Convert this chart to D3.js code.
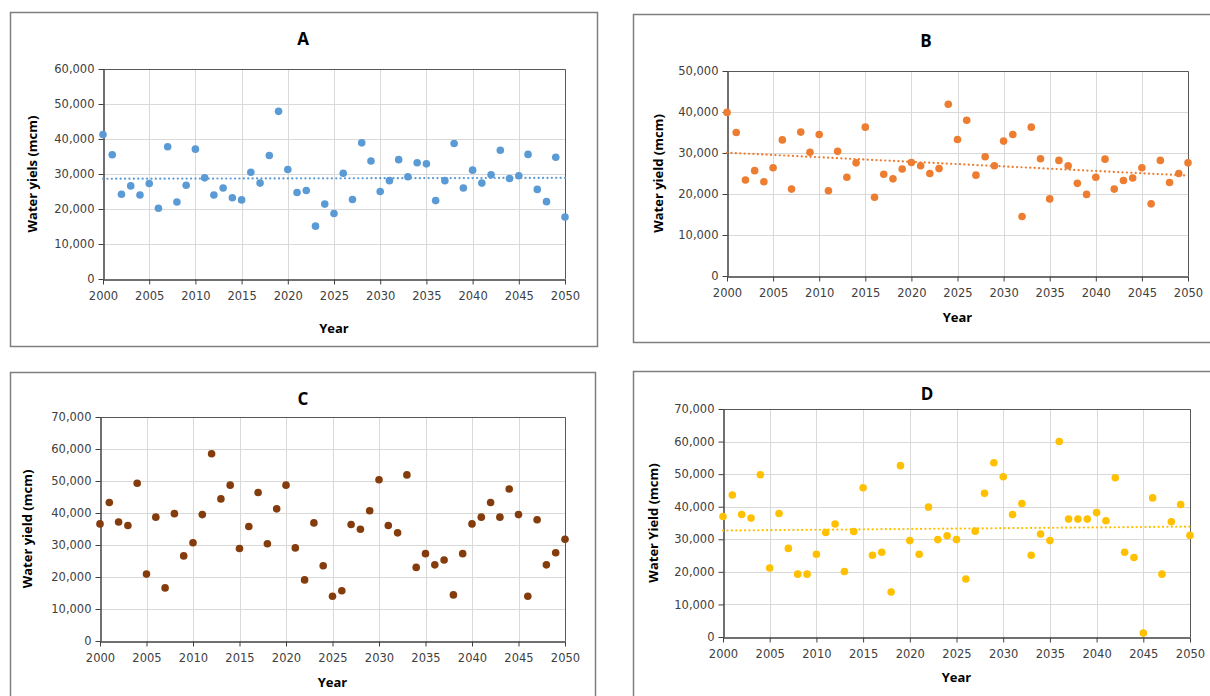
<!DOCTYPE html>
<html>
<meta charset="utf-8">
<style>
  body { margin: 0; background: #fff; }
  text { font-family: "DejaVu Sans", Verdana, sans-serif; }
  .lbl { font-family: "Open Sans", "Noto Sans", sans-serif; font-weight: bold; }
</style>
<script src="https://d3js.org/d3.v7.min.js"></script>
<body>
<script>
  var svgWidth = 1210, svgHeight = 696;

  var years = d3.range(2000, 2051);
  var xTicks = [2000, 2005, 2010, 2015, 2020, 2025, 2030, 2035, 2040, 2045, 2050];

  // water yield (thousand mcm)
  var yieldA = [41.3, 35.5, 24.2, 26.6, 24.0, 27.3, 20.2, 37.8, 22.0, 26.8,
    37.1, 28.9, 24.0, 26.0, 23.2, 22.6, 30.5, 27.4, 35.3, 47.9,
    31.3, 24.7, 25.3, 15.1, 21.4, 18.7, 30.2, 22.7, 38.9, 33.7,
    25.0, 28.1, 34.1, 29.2, 33.2, 32.9, 22.4, 28.1, 38.7, 26.0,
    31.1, 27.4, 29.8, 36.8, 28.7, 29.5, 35.6, 25.6, 22.1, 34.8, 17.7];
  var yieldB = [39.9, 35.0, 23.4, 25.7, 23.0, 26.4, 33.2, 21.2, 35.1, 30.2,
    34.5, 20.8, 30.4, 24.1, 27.6, 36.3, 19.2, 24.8, 23.7, 26.1,
    27.7, 26.9, 25.0, 26.2, 41.9, 33.3, 38.0, 24.6, 29.1, 26.9,
    32.9, 34.5, 14.5, 36.3, 28.6, 18.8, 28.2, 26.9, 22.6, 19.9,
    24.1, 28.5, 21.2, 23.3, 23.9, 26.4, 17.6, 28.2, 22.8, 25.0, 27.6];
  var yieldC = [36.6, 43.3, 37.2, 36.1, 49.3, 20.9, 38.7, 16.6, 39.8, 26.6,
    30.7, 39.5, 58.5, 44.4, 48.7, 28.9, 35.8, 46.4, 30.4, 41.3,
    48.7, 29.1, 19.1, 36.9, 23.5, 14.0, 15.7, 36.4, 34.9, 40.7,
    50.4, 36.1, 33.8, 51.9, 23.0, 27.3, 23.8, 25.3, 14.4, 27.3,
    36.6, 38.7, 43.3, 38.7, 47.5, 39.5, 14.0, 37.9, 23.8, 27.6, 31.8];
  var yieldD = [37.0, 43.6, 37.6, 36.5, 49.8, 21.2, 37.9, 27.2, 19.3, 19.3,
    25.4, 32.1, 34.7, 20.1, 32.4, 45.8, 25.1, 26.0, 13.8, 52.6,
    29.6, 25.4, 39.9, 29.9, 31.1, 29.9, 17.8, 32.5, 44.1, 53.5,
    49.2, 37.6, 41.0, 25.1, 31.6, 29.6, 60.0, 36.2, 36.2, 36.2,
    38.2, 35.7, 48.9, 26.0, 24.4, 1.2, 42.7, 19.3, 35.4, 40.7, 31.2];

  var panelNames = ["A", "B", "C", "D"];
  var yTitles = ["Water yiels (mcm)", "Water yield (mcm)", "Water yield (mcm)", "Water Yield (mcm)"];
  var yMaxes = [60000, 50000, 70000, 70000];
  var colors = ["#5b9bd5", "#ed7d31", "#843c0c", "#ffc000"];
  var trends = [true, true, false, true];
  var series = [yieldA, yieldB, yieldC, yieldD];

  // layout of each panel: outer box, plot area, title / axis label spots
  var boxes = [
    { x: 10, y: 12, w: 587, h: 334, l: 103, r: 565, t: 69, b: 279, tx: 303, ty: 38, ay: 328, yl: 32 },
    { x: 633, y: 14, w: 600, h: 328, l: 727, r: 1188, t: 71, b: 276, tx: 926, ty: 40, ay: 317, yl: 658 },
    { x: 10, y: 372, w: 585, h: 340, l: 100, r: 565, t: 417, b: 641, tx: 303, ty: 398, ay: 682, yl: 27 },
    { x: 633, y: 371, w: 600, h: 340, l: 723, r: 1190, t: 409, b: 637, tx: 927, ty: 393, ay: 677, yl: 653 }
  ];

  var svg = d3.select("body").append("svg")
    .attr("width", svgWidth)
    .attr("height", svgHeight);

  var fmt = d3.format(",");

  panelNames.forEach(function(name, i) {
    var bx = boxes[i];
    var data = years.map(function(yr, j) { return { year: yr, value: series[i][j] * 1000 }; });

    var x = d3.scaleLinear().domain([2000, 2050]).range([bx.l, bx.r]);
    var y = d3.scaleLinear().domain([0, yMaxes[i]]).range([bx.b, bx.t]);
    var yTicks = d3.range(0, yMaxes[i] + 1, 10000);

    var g = svg.append("g");

    g.append("rect")
      .attr("x", bx.x + 0.5).attr("y", bx.y + 0.5)
      .attr("width", bx.w).attr("height", bx.h)
      .attr("fill", "#fff").attr("stroke", "#7f7f7f").attr("stroke-width", 1.5);

    // grid
    g.append("g").selectAll("line").data(yTicks.slice(1))
      .enter().append("line")
      .attr("x1", bx.l).attr("x2", bx.r)
      .attr("y1", function(d) { return Math.round(y(d)) + 0.5; })
      .attr("y2", function(d) { return Math.round(y(d)) + 0.5; })
      .attr("stroke", "#d9d9d9");
    g.append("g").selectAll("line").data(xTicks.slice(1))
      .enter().append("line")
      .attr("x1", function(d) { return Math.round(x(d)) + 0.5; })
      .attr("x2", function(d) { return Math.round(x(d)) + 0.5; })
      .attr("y1", bx.t).attr("y2", bx.b)
      .attr("stroke", "#d9d9d9");

    // plot frame (top / right)
    g.append("path")
      .attr("d", "M" + bx.l + "," + (bx.t + 0.5) + "H" + (bx.r + 0.5) + "V" + bx.b)
      .attr("fill", "none").attr("stroke", "#595959");

    var xAxis = g.append("g")
      .attr("transform", "translate(0," + (Math.round(bx.b) + 0.5) + ")")
      .call(d3.axisBottom(x).tickValues(xTicks).tickFormat(d3.format("d")).tickSize(5).tickSizeOuter(0));
    var yAxis = g.append("g")
      .attr("transform", "translate(" + (Math.round(bx.l) + 0.5) + ",0)")
      .call(d3.axisLeft(y).tickValues(yTicks).tickFormat(fmt).tickSize(5).tickSizeOuter(0));

    [xAxis, yAxis].forEach(function(ax) {
      ax.select(".domain").attr("stroke", "#404040").attr("stroke-width", 1.5);
      ax.selectAll(".tick line").attr("stroke", "#404040");
      ax.selectAll("text")
        .attr("fill", "#404040")
        .style("font-size", "11.5px")
        .style("font-family", "'DejaVu Sans', Verdana, sans-serif");
    });
    xAxis.selectAll("text").attr("dy", "1.1em");
    yAxis.selectAll("text").attr("x", -9);

    // trend line (least squares)
    if (trends[i]) {
      var mx = d3.mean(data, function(d) { return d.year; });
      var my = d3.mean(data, function(d) { return d.value; });
      var sxy = d3.sum(data, function(d) { return (d.year - mx) * (d.value - my); });
      var sxx = d3.sum(data, function(d) { return (d.year - mx) * (d.year - mx); });
      var slope = sxy / sxx;
      var fit = function(yr) { return my + slope * (yr - mx); };
      g.append("line")
        .attr("x1", x(2000)).attr("x2", x(2050))
        .attr("y1", y(fit(2000))).attr("y2", y(fit(2050)))
        .attr("stroke", colors[i])
        .attr("stroke-width", 2.2)
        .attr("stroke-linecap", "round")
        .attr("stroke-dasharray", "0.1,4.3");
    }

    g.append("g").selectAll("circle").data(data)
      .enter().append("circle")
      .attr("cx", function(d) { return x(d.year); })
      .attr("cy", function(d) { return y(d.value); })
      .attr("r", 3.8)
      .attr("fill", colors[i]);

    g.append("text")
      .attr("class", "lbl")
      .attr("x", bx.tx)
      .attr("y", bx.ty)
      .attr("text-anchor", "middle")
      .attr("dominant-baseline", "central")
      .style("font-size", "17px")
      .attr("fill", "#000")
      .text(name);

    g.append("text")
      .attr("class", "lbl")
      .attr("x", (bx.l + bx.r) / 2)
      .attr("y", bx.ay)
      .attr("text-anchor", "middle")
      .attr("dominant-baseline", "central")
      .style("font-size", "13px")
      .attr("fill", "#000")
      .text("Year");

    g.append("text")
      .attr("class", "lbl")
      .attr("transform", "translate(" + bx.yl + "," + (bx.t + bx.b) / 2 + ") rotate(-90)")
      .attr("text-anchor", "middle")
      .attr("dominant-baseline", "central")
      .style("font-size", "13px")
      .attr("fill", "#000")
      .text(yTitles[i]);
  });
</script>
</body>
</html>
